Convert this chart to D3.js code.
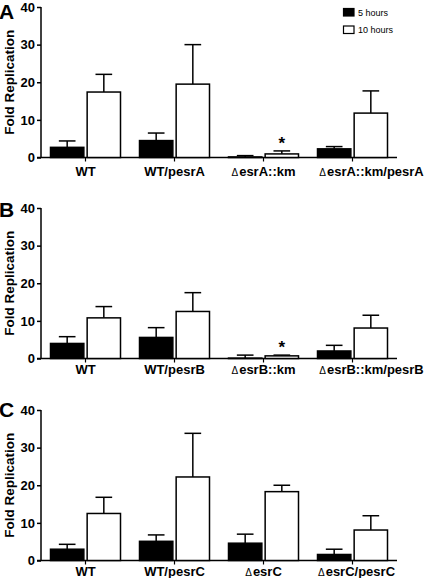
<!DOCTYPE html>
<html><head><meta charset="utf-8">
<script src="https://cdn.jsdelivr.net/npm/d3@7"></script>
<style>body{margin:0;background:#fff}svg{display:block}text{font-family:Arial,"Liberation Sans",sans-serif}</style>
</head><body>
<script>
// ---- data ----
const series = ["5 hours", "10 hours"];
const yTicks = [0, 10, 20, 30, 40];
const panelLetters = ["A", "B", "C"];

const categoriesA = ["WT", "WT/pesrA", "ΔesrA::km", "ΔesrA::km/pesrA"];
const fiveHoursA = [2.7, 4.5, 0.15, 2.3];
const fiveHoursErrA = [1.7, 2.0, 0.35, 0.6];
const tenHoursA = [17.4, 19.5, 0.95, 11.8];
const tenHoursErrA = [4.7, 10.5, 0.8, 5.9];
const starA = [false, false, true, false];

const categoriesB = ["WT", "WT/pesrB", "ΔesrB::km", "ΔesrB::km/pesrB"];
const fiveHoursB = [4.0, 5.6, 0.1, 2.0];
const fiveHoursErrB = [1.8, 2.6, 0.8, 1.5];
const tenHoursB = [10.8, 12.5, 0.7, 8.1];
const tenHoursErrB = [3.0, 5.0, 0.2, 3.4];
const starB = [false, false, true, false];

const categoriesC = ["WT", "WT/pesrC", "ΔesrC", "ΔesrC/pesrC"];
const fiveHoursC = [3.0, 5.1, 4.6, 1.6];
const fiveHoursErrC = [1.3, 1.7, 2.4, 1.4];
const tenHoursC = [12.5, 22.2, 18.3, 8.1];
const tenHoursErrC = [4.3, 11.6, 1.7, 3.8];
const starC = [false, false, false, false];

const panels = [
  {cats: categoriesA, v: [fiveHoursA, tenHoursA], e: [fiveHoursErrA, tenHoursErrA], star: starA},
  {cats: categoriesB, v: [fiveHoursB, tenHoursB], e: [fiveHoursErrB, tenHoursErrB], star: starB},
  {cats: categoriesC, v: [fiveHoursC, tenHoursC], e: [fiveHoursErrC, tenHoursErrC], star: starC}
];

// ---- layout ----
const W = 425, H = 578;
const panelTops = [7, 208, 410];
const letterBase = [18.5, 217, 417];
const labelOffset = [18, 15.8, 15.5];
const lastLabelShift = [19, 19, 4];
const plotH = 150.5;
const xLeft = 41, xRight = 397;
const fills = ["#000", "#fff"];

const svg = d3.select("body").append("svg").attr("width", W).attr("height", H);

panels.forEach((p, pi) => {
  const top = panelTops[pi];
  const g = svg.append("g");
  const y = d3.scaleLinear().domain([0, 40]).range([top + plotH, top]);
  const x0 = d3.scaleBand().domain(p.cats).range([xLeft, xRight]).padding(0);
  const x1 = d3.scaleBand().domain(series).range([-35, 35]).paddingInner(0.09);
  const bw = x1.bandwidth();

  // y axis
  const ya = g.append("g").attr("transform", `translate(${xLeft},0)`)
    .call(d3.axisLeft(y).tickValues(yTicks).tickSize(4).tickPadding(2));
  ya.select(".domain").attr("stroke", "#000").attr("stroke-width", 1.5).attr("d", `M-0,${top}V${top + plotH}`);
  ya.selectAll(".tick line").attr("stroke-width", 1.5);
  ya.selectAll(".tick text").attr("font-size", 13).attr("font-weight", "bold").attr("fill", "#000")
    .style("font-family", "Arial, 'Liberation Sans', sans-serif");

  // x axis
  const xa = g.append("g").attr("transform", `translate(0,${top + plotH})`)
    .call(d3.axisBottom(x0).tickSize(4).tickSizeOuter(0).tickFormat(""));
  xa.select(".domain").attr("stroke-width", 1.5).attr("d", `M${xLeft - 4},0H${xRight}`);
  xa.selectAll(".tick line").attr("stroke-width", 1.2);

  // category labels
  p.cats.forEach((c, ci) => {
    const shift = ci === p.cats.length - 1 ? lastLabelShift[pi] : 0;
    const t = g.append("text").attr("x", x0(c) + x0.bandwidth() / 2 + shift).attr("y", top + plotH + labelOffset[pi])
      .attr("text-anchor", "middle").attr("font-size", 13).attr("font-weight", "bold");
    if (c.startsWith("Δ")) {
      t.append("tspan").attr("font-size", 10).attr("font-weight", "normal").text("Δ");
      t.append("tspan").attr("dx", 1).text(c.slice(1));
    } else t.text(c);
  });

  // bars + error bars
  series.forEach((s, si) => {
    p.cats.forEach((c, ci) => {
      const val = p.v[si][ci], err = p.e[si][ci];
      const cx = x0(c) + x0.bandwidth() / 2 + x1(s);
      const mid = cx + bw / 2;
      g.append("line").attr("x1", mid).attr("x2", mid).attr("y1", y(val)).attr("y2", y(val + err))
        .attr("stroke", "#000").attr("stroke-width", 1.5);
      g.append("line").attr("x1", mid - bw / 4).attr("x2", mid + bw / 4).attr("y1", y(val + err)).attr("y2", y(val + err))
        .attr("stroke", "#000").attr("stroke-width", 1.5);
      g.append("rect").attr("x", cx).attr("y", y(val)).attr("width", bw).attr("height", y(0) - y(val))
        .attr("fill", fills[si]).attr("stroke", "#000").attr("stroke-width", 1.5);
      if (si === 1 && p.star[ci]) {
        g.append("text").attr("x", mid).attr("y", y(val + err) - 2).attr("text-anchor", "middle")
          .attr("font-size", 17).attr("font-weight", "bold").text("*");
      }
    });
  });

  // panel letter
  svg.append("text").attr("x", -1).attr("y", letterBase[pi]).attr("font-size", 21).attr("font-weight", "bold").text(panelLetters[pi]);

  // y title
  svg.append("text").attr("transform", `translate(13.5,${top + plotH / 2}) rotate(-90)`)
    .attr("text-anchor", "middle").attr("font-size", 13.5).attr("font-weight", "bold").text("Fold Replication");
});

// legend (panel A)
const lg = svg.append("g");
series.forEach((s, i) => {
  lg.append("rect").attr("x", 343.5).attr("y", 8.5 + i * 17.5).attr("width", 10.5).attr("height", 7.5)
    .attr("fill", fills[i]).attr("stroke", "#000").attr("stroke-width", 1.2);
  lg.append("text").attr("x", 358).attr("y", 15.5 + i * 17.5).attr("font-size", 9).text(s);
});
</script>
</body></html>
